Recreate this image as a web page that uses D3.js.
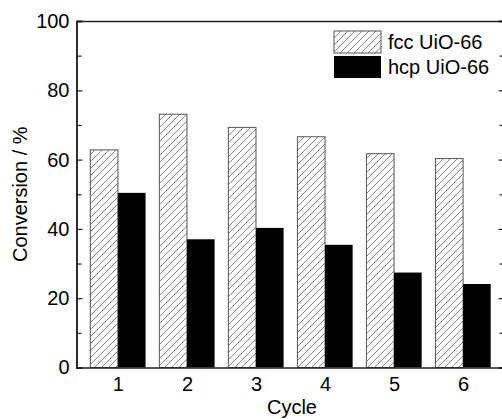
<!DOCTYPE html>
<html>
<head>
<meta charset="utf-8">
<script src="https://cdn.jsdelivr.net/npm/d3@7"></script>
<style>
  body { margin: 0; background: #fff; }
  svg { display: block; font-family: "Liberation Sans", Arial, sans-serif; }
</style>
</head>
<body>
<div id="chart"></div>
<script>
const cycles = [1, 2, 3, 4, 5, 6];
const fccValues = [62.8, 73.1, 69.3, 66.6, 61.7, 60.3];
const hcpValues = [50.4, 37.0, 40.3, 35.4, 27.4, 24.1];
const seriesNames = ["fcc UiO-66", "hcp UiO-66"];
const yTicks = [0, 20, 40, 60, 80, 100];
const yMinorTicks = [10, 30, 50, 70, 90];

const width = 502, height = 419;
const plotLeft = 76.5, plotRight = 504.5, plotTop = 21, plotBottom = 367.5;
const barW = 0.4;

const svg = d3.select("#chart").append("svg")
  .attr("width", width)
  .attr("height", height);

const defs = svg.append("defs");
const pat = defs.append("pattern")
  .attr("id", "hatch")
  .attr("patternUnits", "userSpaceOnUse")
  .attr("width", 7)
  .attr("height", 7);
pat.append("rect").attr("width", 7).attr("height", 7).attr("fill", "#fff");
pat.append("path")
  .attr("d", "M-1,1 l2,-2 M0,7 l7,-7 M6,8 l2,-2")
  .attr("stroke", "#666")
  .attr("stroke-width", 0.8);

const x = d3.scaleLinear().domain([0.4, 6.6]).range([plotLeft, plotRight]);
const y = d3.scaleLinear().domain([0, 100]).range([plotBottom, plotTop]);

// bars
const groups = svg.append("g").selectAll("g")
  .data(cycles)
  .enter().append("g");

groups.append("rect")
  .attr("x", d => x(d - barW))
  .attr("y", (d, i) => y(fccValues[i]))
  .attr("width", d => x(d) - x(d - barW))
  .attr("height", (d, i) => y(0) - y(fccValues[i]))
  .attr("fill", "url(#hatch)")
  .attr("stroke", "#555")
  .attr("stroke-width", 1);

groups.append("rect")
  .attr("x", d => x(d))
  .attr("y", (d, i) => y(hcpValues[i]))
  .attr("width", d => x(d + barW) - x(d))
  .attr("height", (d, i) => y(0) - y(hcpValues[i]))
  .attr("fill", "#000");

// axes
const axisColor = "#222";

svg.append("g").attr("transform", `translate(${plotLeft},0)`)
  .call(d3.axisLeft(y).tickValues(yTicks).tickSize(-6).tickPadding(7));
svg.append("g").attr("transform", `translate(${plotLeft},0)`)
  .call(d3.axisLeft(y).tickValues(yMinorTicks).tickSize(-5).tickFormat(""));

svg.append("g").attr("transform", `translate(${plotRight},0)`)
  .call(d3.axisRight(y).tickValues(yTicks).tickSize(-6).tickFormat(""));
svg.append("g").attr("transform", `translate(${plotRight},0)`)
  .call(d3.axisRight(y).tickValues(yMinorTicks).tickSize(-5).tickFormat(""));

const xAxis = svg.append("g").attr("transform", `translate(0,${plotBottom})`)
  .call(d3.axisBottom(x).tickValues(cycles).tickSize(-6).tickPadding(9.5).tickFormat(d3.format("d")));

svg.append("g").attr("transform", `translate(0,${plotTop})`)
  .call(d3.axisTop(x).tickValues([]).tickSize(0));

svg.selectAll(".domain").attr("stroke", axisColor).attr("stroke-width", 1.5);
svg.selectAll(".tick line").attr("stroke", axisColor).attr("stroke-width", 1.2);
svg.selectAll(".tick text").attr("font-size", 20).attr("fill", "#000")
  .attr("font-family", "Liberation Sans, Arial, sans-serif");
xAxis.selectAll(".tick line").remove();

// axis titles
svg.append("text")
  .attr("x", 292)
  .attr("y", 414)
  .attr("text-anchor", "middle")
  .attr("font-size", 20)
  .text("Cycle");

svg.append("text")
  .attr("transform", `translate(27,${(plotTop + plotBottom) / 2}) rotate(-90)`)
  .attr("text-anchor", "middle")
  .attr("font-size", 20)
  .text("Conversion / %");

// legend
const legend = svg.append("g").attr("transform", "translate(334,31)");
const legendFills = ["url(#hatch)", "#000"];
legend.selectAll("rect")
  .data(seriesNames)
  .enter().append("rect")
  .attr("x", 0)
  .attr("y", (d, i) => i * 25)
  .attr("width", 47)
  .attr("height", 22)
  .attr("fill", (d, i) => legendFills[i])
  .attr("stroke", (d, i) => i === 0 ? "#555" : "none");
legend.selectAll("text")
  .data(seriesNames)
  .enter().append("text")
  .attr("x", 54)
  .attr("y", (d, i) => 17.5 + i * 25)
  .attr("font-size", 20)
  .text(d => d);
</script>
</body>
</html>
